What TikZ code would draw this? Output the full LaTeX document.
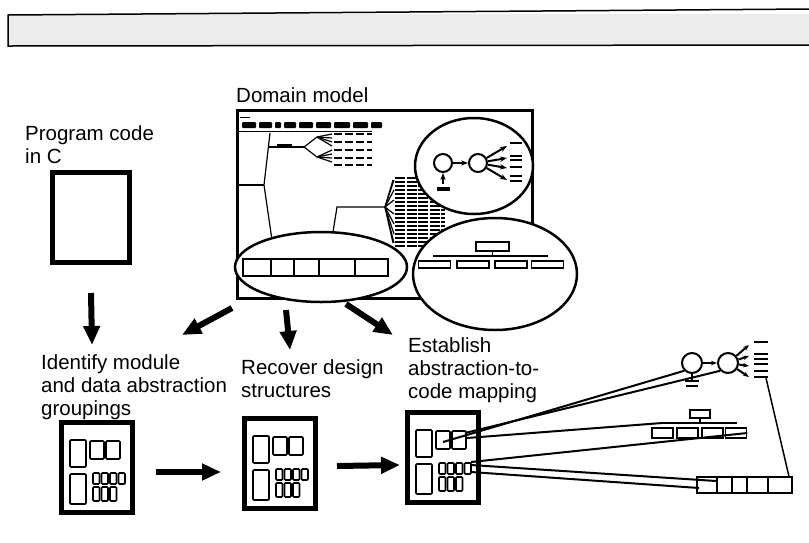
\documentclass[tikz,border=0pt]{standalone}
\usepackage{fontspec}
\setmainfont{Liberation Sans}
\usetikzlibrary{arrows.meta,shapes.geometric}

\tikzset{
  lab/.style={anchor=north west, inner sep=0pt, align=left, font=\fontsize{20.5}{23}\selectfont},
  codepage/.style={draw, line width=5pt, inner sep=0pt},
  fatarrow/.style={line width=6pt, -{Triangle[length=19pt,width=16pt]}},
  lens/.style={ellipse, draw, line width=2.5pt, fill=white, inner sep=0pt},
  thinbox/.style={draw, line width=1.6pt, inner sep=0pt},
  blob/.style={line width=2.5pt},
  maplink/.style={line width=2pt},
  modbox/.pic={
    \draw[line width=5pt] (2.5,2.5) rectangle (73.5,92.5);
    \begin{scope}[line width=1.6pt, rounded corners=1pt]
      \draw (11,20) rectangle (27,47);
      \draw (31,21) rectangle (45,39);
      \draw (47,21) rectangle (61,39);
      \draw (11,54) rectangle (27,84);
      \foreach \x in {34,42.5,51,59.5} \draw (\x,53) rectangle +(6.5,11);
      \foreach \x in {34,42.5,51} \draw (\x,67) rectangle +(6.5,14);
    \end{scope}
    \coordinate (-w) at (0,52);
    \coordinate (-e) at (76,52);
    \coordinate (-s1) at (38,32);
    \coordinate (-s2) at (60,23);
    \coordinate (-s3) at (62,28);
    \coordinate (-r1) at (66,52);
    \coordinate (-r2) at (66,55);
    \coordinate (-r3) at (66,62);
  }
}

\begin{document}
\begin{tikzpicture}[x=1pt,y=-1pt]
\useasboundingbox (0,0) rectangle (809,542);

% banner
\fill[gray!15] (8,14) rectangle (809,46);
\draw[line width=1.5pt] (809,9) -- (8,15) -- (8,46) -- (809,45);

% labels
\node[lab] (dmlab) at (236,87) {Domain model};
\node[lab] (pclab) at (25,125) {Program code\\in C};
\node[lab] (idlab) at (41,354) {Identify module\\and data abstraction\\groupings};
\node[lab] (rdlab) at (241,359) {Recover design\\structures};
\node[lab] (ealab) at (408,337) {Establish\\abstraction-to-\\code mapping};

% program code
\node[codepage, minimum width=77pt, minimum height=90pt] (prog) at (91,217.5) {};

% domain model screen
\node[draw, line width=3pt, inner sep=0pt, minimum width=295pt, minimum height=188pt] (dom) at (385,204.5) {};
\draw[line width=1pt] (240,117) -- (250,117);
\foreach \a/\b in {242/256,259/272,275/281,284/296,299/313,316/331,334/350,353/368,371/382}
  \fill[rounded corners=1pt] (\a,122) rectangle (\b,128);
\draw[line width=1pt] (238,131) -- (372,131);
\begin{scope}[line width=1.2pt]
  \draw (270,133) -- (264,185) -- (272,240);
  \draw (238,185) -- (264,185);
  \draw (269,147) -- (304,147);
  \draw (317,137) -- (304,147) -- (317,157);
  \foreach \y in {134,138,142,146} \draw (317,137) -- (332,\y);
  \foreach \y in {150,154,158,162} \draw (317,157) -- (332,\y);
  \draw (333,232) -- (337,207) -- (385,207);
  \draw (393,180) -- (385,207) -- (393,243);
  \foreach \y in {180,190,200,214,224,234,243} \draw (385,207) -- (394,\y);
\end{scope}
\draw[line width=1.5pt] (277,145) -- (292,145);
\foreach \y in {134,142,150,158,165}
  \draw[line width=1.8pt, dash pattern=on 8pt off 3pt] (334,\y) -- (372,\y);
\foreach \y in {178,182,...,246}
  \draw[line width=2.2pt, dash pattern=on 10pt off 1.5pt] (395,\y) -- (445,\y);

% lenses on the screen
\node[lens, minimum width=118pt, minimum height=96pt] (elnet) at (474,166) {};
\node[lens, minimum width=164pt, minimum height=112pt] (eltree) at (495,274) {};
\node[lens, minimum width=172pt, minimum height=70pt] (elrow) at (321,267) {};

% net inside lens
\node[circle, draw, line width=2pt, minimum size=18pt, inner sep=0pt] (na) at (443,163) {};
\node[circle, draw, line width=2pt, minimum size=18pt, inner sep=0pt] (nb) at (478,163) {};
\draw[line width=2pt, -{Stealth[length=7pt]}] (na) -- (nb);
\coordinate (ng) at (443,184);
\draw[line width=2pt, -{Stealth[length=7pt]}] (ng) -- (na);
\draw[line width=4pt] (437,189) -- (450,189);
\foreach \y in {146,158,168,180}
  \draw[line width=2pt, -{Stealth[length=7pt]}] (nb) -- (507,\y);
\foreach \y in {143,156,160,167,176,181}
  \draw[blob] (510,\y) -- (522,\y);

% tree inside lens
\node[thinbox, minimum width=33pt, minimum height=9pt] (et0) at (492.5,246.5) {};
\draw[line width=1.5pt] (433,256) -- (548,256);
\draw[line width=1.5pt] (et0) -- (492.5,256);
\foreach \x/\n in {434.5/1,473/2,511/3,547.5/4} {
  \node[thinbox, minimum width=32pt, minimum height=7pt] (et\n) at (\x,264.5) {};
}

% row inside lens
\node[draw, line width=2pt, inner sep=0pt, minimum width=145pt, minimum height=17pt] (er) at (315.5,267.5) {};
\foreach \x in {271,294,319,355} \draw[line width=2pt] (\x,259) -- (\x,276);

% arrows out of the domain model
\draw[fatarrow] ([shift={(0,28)}]prog.south) -- ([shift={(1,80)}]prog.south);
\draw[fatarrow] ([shift={(-4,8)}]dom.south west) -- (182,335);
\draw[fatarrow] ([shift={(50,10)}]dom.south west) -- (290,350);
\draw[fatarrow] ([shift={(110,4)}]dom.south west) -- (393,335);

% module groupings
\pic (m1) at (59,420) {modbox};
\pic (m2) at (242,416) {modbox};
\pic (m3) at (405,410) {modbox};
\draw[fatarrow] ([shift={(21,0)}]m1-e) -- ([shift={(-21,4)}]m2-w);
\draw[fatarrow] ([shift={(19,-2)}]m2-e) -- ([shift={(-5,3)}]m3-w);

% mapped abstractions
\node[circle, draw, line width=2pt, minimum size=20pt, inner sep=0pt] (ca) at (692,363) {};
\node[circle, draw, line width=2pt, minimum size=20pt, inner sep=0pt] (cb) at (728,363) {};
\draw[line width=2pt, -{Stealth[length=6pt]}] (ca) -- (cb);
\coordinate (cg) at (692,381);
\draw[line width=2pt] (cg) -- (ca);
\draw[blob] (685,381) -- (699,381) (686,386) -- (698,386);
\foreach \y in {345,356,366,377}
  \draw[line width=2pt, -{Stealth[length=6pt]}] (cb) -- (749,\y);
\foreach \y in {342,354,359,364,371,377}
  \draw[blob] (754,\y) -- (768,\y);
\coordinate (cl) at (766,378);

\node[thinbox, minimum width=20pt, minimum height=8pt] (tt0) at (700,414) {};
\coordinate (hl) at (662,423);
\draw[line width=1.5pt] (hl) -- (737,423);
\draw[line width=1.5pt] (tt0) -- (700,423);
\foreach \x/\n in {662.5/1,687.5/2,712.5/3,736/4} {
  \node[thinbox, minimum width=21pt, minimum height=10pt] (tb\n) at (\x,433) {};
}

\node[draw, line width=1.8pt, inner sep=0pt, minimum width=95pt, minimum height=16pt] (row) at (744.5,485) {};
\foreach \x in {717,732,747,768} \draw[line width=1.8pt] (\x,477) -- (\x,493);
\draw[line width=1.5pt] ([shift={(-4,0)}]row.north east) -- (cl);

\draw[maplink] (m3-s1) -- (ca.south west);
\draw[maplink] (m3-s2) -- (cb.south west);
\draw[maplink] (m3-s3) -- (hl);
\draw[maplink] (m3-r1) -- (tb4.east);
\draw[maplink] (m3-r2) -- ([shift={(20,-4)}]row.west);
\draw[maplink] (m3-r3) -- ([shift={(3,3)}]row.west);
\end{tikzpicture}
\end{document}
